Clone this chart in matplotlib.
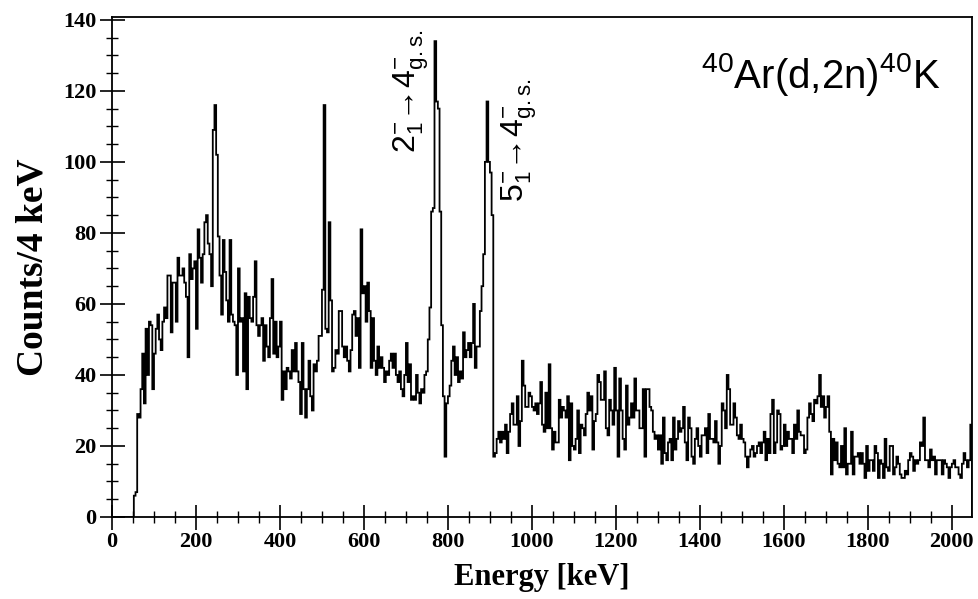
import matplotlib
matplotlib.use("Agg")
import matplotlib.pyplot as plt
import numpy as np
from matplotlib.ticker import MultipleLocator

BIN_KEV = 4

# counts per 4 keV bin, 0 .. 2048 keV
counts = [
    0, 0, 0, 0, 0, 0, 0, 0, 0, 0, 0, 0, 0,
    6, 7, 29, 28, 36, 46, 32, 53, 40, 55, 54, 36, 46, 53, 57, 50, 47, 55, 59, 56, 68,
    68, 52, 66, 66, 55, 73, 68, 68, 70, 66, 62, 45, 74, 67, 70, 72, 53, 81, 73, 66,
    74, 83, 85, 77, 74, 65, 109, 116, 102, 79, 68, 57, 78, 69, 61, 55, 78, 57, 55, 54,
    40, 70, 55, 56, 41, 63, 36, 62, 56, 55, 62, 72,
    54, 51, 54, 56, 44, 54, 48, 45, 56, 67, 46, 55, 45, 48, 55, 33, 41, 36, 42, 41,
    39, 47, 41, 49, 41, 38, 29, 49, 36, 28, 36, 44, 34, 30, 43, 41, 44, 51, 51, 64,
    116, 53, 52, 83, 61, 41, 42, 47, 46, 58,
    58, 48, 45, 48, 44, 41, 47, 57, 58, 51, 56, 42, 81, 63, 65, 55, 66, 58, 42, 56,
    44, 40, 48, 42, 45, 42, 38, 41, 40, 44, 46, 42, 46, 40, 38, 41, 36, 34, 40, 49,
    38, 43, 33, 34, 33, 40, 35, 32, 36, 35, 40, 41,
    50, 59, 86, 87, 134, 117, 115, 86, 54, 34, 17, 32, 34, 37, 44, 48, 40, 45, 38, 41,
    39, 52, 45, 47, 49, 45, 49, 60, 42, 48, 48, 58, 65, 74, 100, 117, 100, 97, 85, 17,
    18, 22, 24, 21, 24, 22, 26,
    18, 24, 29, 32, 26, 26, 34, 20, 27, 44, 37, 31, 31, 35, 34, 31, 30, 32, 29, 32,
    38, 26, 24, 35, 25, 43, 25, 19, 24, 21, 21, 33, 28, 31, 30, 28, 34, 16, 32, 20,
    19, 22, 30, 18, 26, 25, 23, 29, 35, 30,
    34, 19, 27, 29, 40, 38, 33, 33, 41, 25, 23, 33, 30, 26, 42, 30, 17, 39, 30, 22,
    19, 37, 26, 28, 32, 28, 39, 30, 30, 25, 25, 36, 17, 36, 36, 31, 30, 24, 22, 23,
    19, 23, 15, 28, 18, 16, 21, 22, 16, 28,
    19, 22, 27, 24, 25, 31, 21, 16, 28, 25, 17, 15, 22, 25, 20, 17, 23, 23, 25, 18,
    29, 22, 22, 21, 27, 21, 15, 20, 32, 30, 25, 40, 36, 26, 26, 32, 28, 23, 22, 26,
    22, 21, 17, 14, 17, 19, 20, 17, 18, 20, 21,
    18, 21, 24, 16, 22, 18, 29, 33, 18, 21, 30, 29, 19, 20, 26, 20, 24, 22, 22, 18,
    26, 22, 30, 24, 23, 23, 18, 19, 28, 32, 29, 27, 33, 32, 34, 40, 31, 34, 28, 31,
    34, 24, 12, 22, 16, 21, 15, 14, 20, 14, 25,
    12, 15, 15, 24, 12, 17, 17, 18, 15, 18, 15, 11, 20, 13, 16, 16, 13, 20, 18, 11,
    16, 15, 11, 22, 14, 13, 20, 20, 12, 14, 17, 15, 12, 11, 11, 13, 12, 16, 18, 17,
    13, 16, 15, 16, 21, 20, 28, 16, 16, 14, 19, 16, 17, 12, 16, 16, 16, 12, 16, 15,
    14, 11, 14, 15, 16, 14, 14, 12, 11, 15, 18, 16, 14, 16, 26,
]

reaction_label = r"$^{40}$Ar(d,2n)$^{40}$K"
peak_labels = [
    (712, 120, r"$2^{-}_{1}\!\rightarrow\!4^{-}_{\mathrm{g.s.}}$"),
    (970, 106, r"$5^{-}_{1}\!\rightarrow\!4^{-}_{\mathrm{g.s.}}$"),
]

edges = np.arange(len(counts) + 1) * BIN_KEV

plt.rcParams["mathtext.fontset"] = "custom"
plt.rcParams["mathtext.rm"] = "Liberation Sans"
plt.rcParams["mathtext.it"] = "Liberation Sans:italic"
plt.rcParams["mathtext.bf"] = "Liberation Sans:bold"

SERIF = "Liberation Serif"
SANS = "Liberation Sans"

fig = plt.figure(figsize=(9.79, 5.99), dpi=100)
ax = fig.add_axes([112 / 979, 82 / 599, 860 / 979, 500 / 599])

ax.stairs(counts, edges, color="black", lw=1.3)
ax.set_xlim(0, 2048)
ax.set_ylim(0, 140.8)

ax.xaxis.set_major_locator(MultipleLocator(200))
ax.xaxis.set_minor_locator(MultipleLocator(50))
ax.yaxis.set_major_locator(MultipleLocator(20))
ax.yaxis.set_minor_locator(MultipleLocator(5))
ax.tick_params(which="major", direction="inout", length=18, width=1.2, pad=2)
ax.tick_params(which="minor", direction="inout", length=9, width=1.0)
for lab in ax.get_xticklabels() + ax.get_yticklabels():
    lab.set_family(SERIF)
    lab.set_fontweight("bold")
    lab.set_fontsize(16)
for sp in ax.spines.values():
    sp.set_linewidth(1.3)

ax.set_xlabel("Energy [keV]", family=SERIF, fontweight="bold", fontsize=22)
ax.xaxis.set_label_coords(0.5, -0.092)
ax.set_ylabel("Counts/4 keV", family=SERIF, fontweight="bold", fontsize=27)
ax.yaxis.set_label_coords(-0.072, 0.5)

for x, y, txt in peak_labels:
    ax.text(x, y, txt, rotation=90, ha="center", va="center", family=SANS, fontsize=23)

ax.text(0.963, 0.858, reaction_label, transform=ax.transAxes, ha="right",
        va="baseline", family=SANS, fontsize=29)

fig.savefig("out.png", dpi=100)
